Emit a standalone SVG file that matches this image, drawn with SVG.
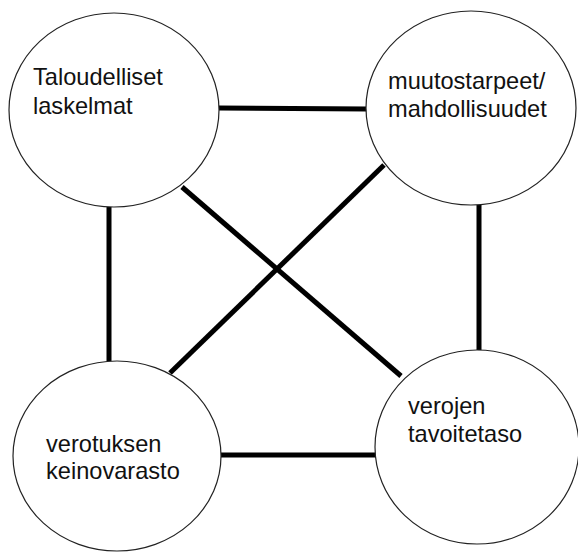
<svg xmlns="http://www.w3.org/2000/svg" width="578" height="552" viewBox="0 0 578 552">
<style>
.node{fill:#fff;stroke:#222;stroke-width:1.2}
.lbl{font-family:"Liberation Sans",Arial,sans-serif;font-size:23.6px;fill:#111}
.conn line{stroke:#000;stroke-width:5;stroke-linecap:butt}
</style>
<rect width="578" height="552" fill="#fff"/>
<g class="conn" id="connectors">
<line x1="219" y1="108" x2="367" y2="109"/>
<line x1="182" y1="187" x2="401" y2="376"/>
<line x1="384" y1="165" x2="170" y2="373"/>
<line x1="109" y1="207" x2="109" y2="361"/>
<line x1="479" y1="205" x2="479" y2="350"/>
<line x1="221" y1="455" x2="376" y2="455"/>
</g>
<g id="n1">
<ellipse class="node" cx="114" cy="110" rx="105" ry="97"/>
<text class="lbl" x="33" y="85">Taloudelliset</text>
<text class="lbl" x="33" y="114">laskelmat</text>
</g>
<g id="n2">
<ellipse class="node" cx="471" cy="108" rx="105" ry="97"/>
<text class="lbl" x="388" y="89">muutostarpeet/</text>
<text class="lbl" x="388" y="117">mahdollisuudet</text>
</g>
<g id="n3">
<ellipse class="node" cx="117" cy="456" rx="104" ry="95"/>
<text class="lbl" x="46" y="452">verotuksen</text>
<text class="lbl" x="46" y="479">keinovarasto</text>
</g>
<g id="n4">
<ellipse class="node" cx="477" cy="447" rx="102" ry="97"/>
<text class="lbl" x="408" y="414">verojen</text>
<text class="lbl" x="408" y="442">tavoitetaso</text>
</g>
</svg>
